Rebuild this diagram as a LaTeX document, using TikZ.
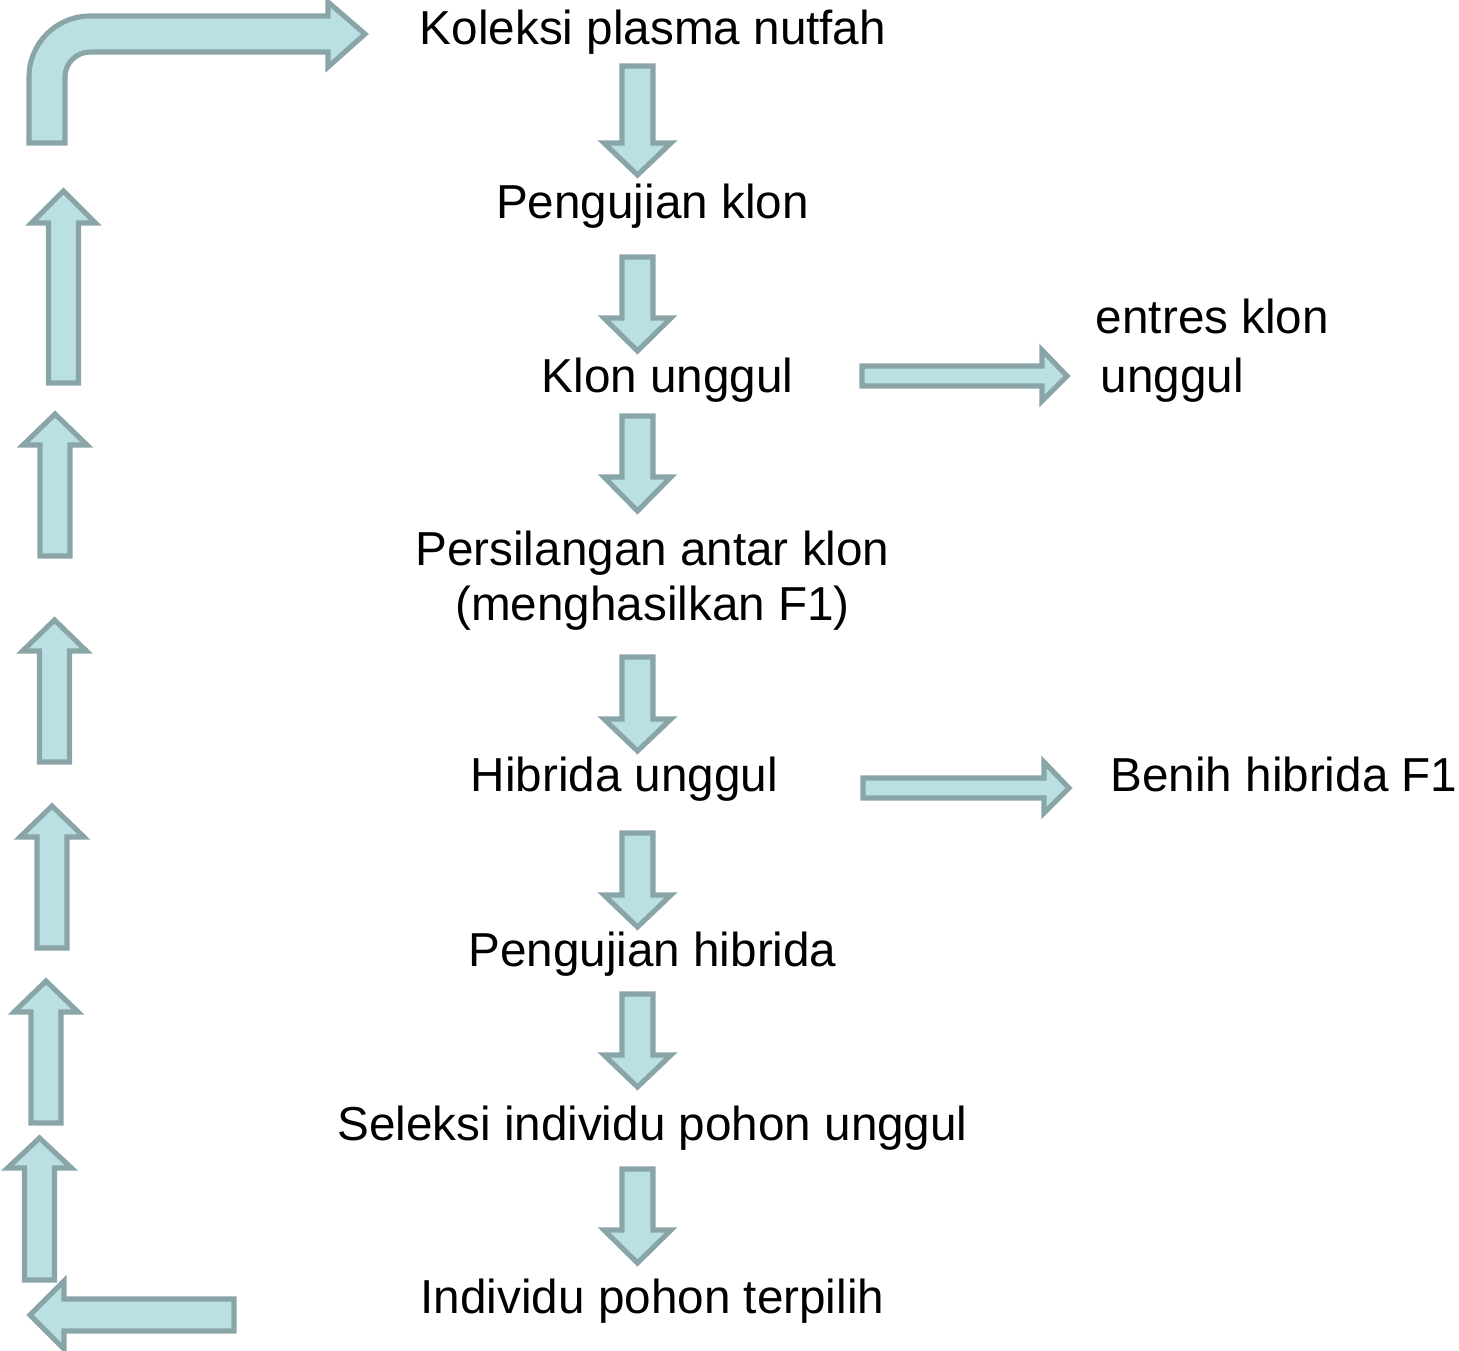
\documentclass[tikz,border=0pt]{standalone}
\usepackage{fontspec}
\setmainfont{Liberation Sans}
\definecolor{arrfill}{HTML}{BBE0E3}
\definecolor{arrline}{HTML}{89A5A7}
\begin{document}
\begin{tikzpicture}[x=0.01cm,y=-0.01cm,
  blk/.style={fill=arrfill,draw=arrline,line width=1.45pt,line join=miter},
  lbl/.style={inner sep=0pt,anchor=base,font=\fontsize{13.55pt}{16pt}\selectfont}]
\useasboundingbox (0,0) rectangle (1459,1350);
% text nodes
\node[lbl] (n1) at (653,44) {Koleksi plasma nutfah};
\node[lbl] (n2) at (652.5,218) {Pengujian klon};
\node[lbl] (n3) at (667.5,392) {Klon unggul};
\node[lbl] (e1) at (1212.5,333) {entres klon};
\node[lbl] (e1b) at (1172.5,392) {unggul};
\node[lbl] (n4) at (652.5,565) {Persilangan antar klon};
\node[lbl] (n4b) at (652.5,620) {(menghasilkan F1)};
\node[lbl] (n5) at (624.5,791) {Hibrida unggul};
\node[lbl] (e2) at (1284,791) {Benih hibrida F1};
\node[lbl] (n6) at (652.5,966) {Pengujian hibrida};
\node[lbl] (n7) at (652.5,1140) {Seleksi individu pohon unggul};
\node[lbl] (n8) at (652.5,1313) {Individu pohon terpilih};
% down block arrows (top, head base, tip)
\foreach \t/\b/\p in {66/143/175, 257/318/351, 416/477/511, 657/719/751, 833/895/927, 994/1055/1087, 1169/1230/1263}{
  \draw[blk] (622,\t) -- (653,\t) -- (653,\b) -- (671,\b) -- (637.5,\p) -- (604,\b) -- (622,\b) -- cycle;
}
% right block arrows
\draw[blk] (862,366) -- (1042,366) -- (1042,350) -- (1067,376) -- (1042,401) -- (1042,386) -- (862,386) -- cycle;
\draw[blk] (863,778) -- (1044,778) -- (1044,762) -- (1069,788) -- (1044,813) -- (1044,798) -- (863,798) -- cycle;
% left up block arrows (centre x, tip, head base, bottom)
\foreach \c/\p/\b/\e in {63.5/191/223/383, 55/414/445/556, 54.5/620/651/762, 52/806/837/948, 46/981/1012/1123, 39.5/1138/1168/1280}{
  \draw[blk] (\c-15,\e) -- (\c-15,\b) -- (\c-32,\b) -- (\c,\p) -- (\c+32,\b) -- (\c+15,\b) -- (\c+15,\e) -- cycle;
}
% bottom-left block arrow pointing left
\draw[blk] (234,1299) -- (64,1299) -- (64,1281) -- (30,1315) -- (64,1349) -- (64,1331) -- (234,1331) -- cycle;
% top-left bent block arrow
\draw[blk] (29,143) -- (29,77) .. controls (29,43.3) and (56.3,16) .. (90,16)
  -- (328,16) -- (328,2) -- (365,34) -- (328,67) -- (328,52) -- (90,52)
  .. controls (76.2,52) and (65,63.2) .. (65,77) -- (65,143) -- cycle;
\end{tikzpicture}
\end{document}
